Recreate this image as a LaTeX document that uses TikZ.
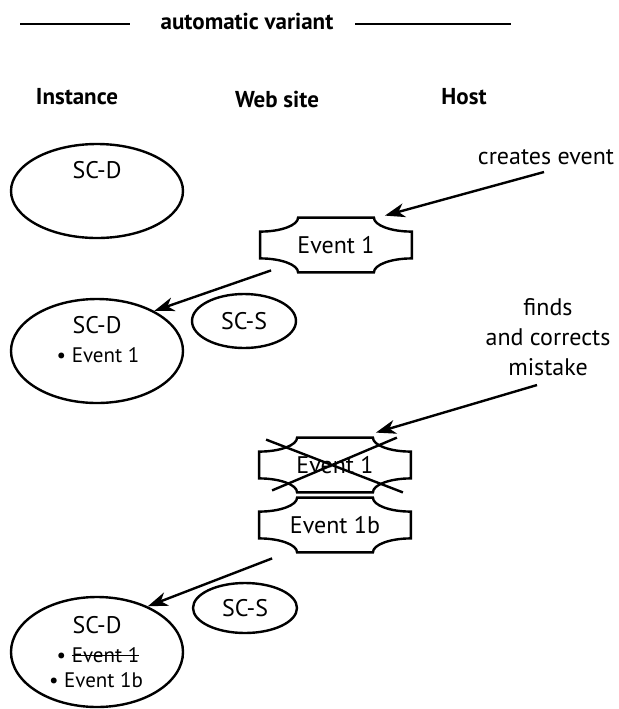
\documentclass[tikz,border=0pt]{standalone}
\usepackage{fontspec}
\setmainfont{PT Sans}
\usetikzlibrary{arrows.meta,calc,shapes.geometric}

\tikzset{
  heading/.style={font=\fontsize{11.5}{13}\selectfont\bfseries},
  plain/.style={font=\fontsize{12}{15}\selectfont, inner sep=1pt},
  itemtext/.style={font=\fontsize{10.5}{12}\selectfont, inner sep=1pt},
  sharedspace/.style={ellipse, draw, line width=1.2pt, inner sep=0pt, minimum width=86pt},
  privspace/.style={ellipse, draw, line width=1.2pt, inner sep=0pt, minimum width=52pt,
    font=\fontsize{12}{15}\selectfont},
  event/.style={font=\fontsize{12}{15}\selectfont, minimum width=75.5pt, minimum height=27pt, inner sep=0pt},
  ticketline/.style={line width=1.2pt},
  push/.style={line width=1.2pt, -{Stealth[length=10pt,width=7pt,inset=3pt]}},
  rule/.style={line width=1.2pt},
  crossline/.style={line width=1.2pt},
}

% struck-out text
\newcommand{\struck}[1]{\setbox0\hbox{#1}\rlap{\rule[0.3em]{\wd0}{0.6pt}}\box0}

% outline with hollow corners round an event node
\newcommand{\ticketoutline}[1]{%
  \draw[ticketline] let \p1=(#1.north west), \p2=(#1.south east) in
    ({\x1+19pt},\y1) -- ({\x2-19pt},\y1)
    .. controls ({\x2-19pt},{\y1-3.85pt}) and ({\x2-10.45pt},{\y1-7pt}) .. (\x2,{\y1-7pt})
    -- (\x2,{\y2+7pt})
    .. controls ({\x2-10.45pt},{\y2+7pt}) and ({\x2-19pt},{\y2+3.85pt}) .. ({\x2-19pt},\y2)
    -- ({\x1+19pt},\y2)
    .. controls ({\x1+19pt},{\y2+3.85pt}) and ({\x1+10.45pt},{\y2+7pt}) .. (\x1,{\y2+7pt})
    -- (\x1,{\y1-7pt})
    .. controls ({\x1+10.45pt},{\y1-7pt}) and ({\x1+19pt},{\y1-3.85pt}) .. cycle;}

\begin{document}
\begin{tikzpicture}[x=0.5pt,y=-0.5pt]
  \useasboundingbox (0,0) rectangle (619,709);

  % title and columns
  \node[heading] (title) at (247,21) {automatic variant};
  \draw[rule] (20,24) -- (130,24);
  \draw[rule] (355,24) -- (511,24);
  \node[heading] (colinst) at (77,97) {Instance};
  \node[heading] (colweb) at (277,99) {Web site};
  \node[heading] (colhost) at (464,97) {Host};

  % host creates the event
  \node[sharedspace, minimum height=47pt] (scd1) at (97,191) {};
  \node[plain] (scd1lbl) at (97,170) {SC-D};
  \node[plain] (creates) at (546,157) {creates event};
  \node[event] (ev1) at (336,245) {Event 1};
  \ticketoutline{ev1}
  \draw[push] ($(creates.south)+(-2,5)$) -- ($(ev1.north east)+(-27,-2)$);

  % instance gets it
  \node[sharedspace, minimum height=52pt] (scd2) at (97,351) {};
  \node[plain] (scd2lbl) at (97,325) {SC-D};
  \node[itemtext] (scd2item) at (98,355) {\textbullet\ Event 1};
  \node[privspace, minimum height=27pt] (scs1) at (244,321) {SC-S};
  \draw[push] ($(ev1.south west)+(11,-2)$) -- (scd2.35);

  % host corrects it
  \node[plain, align=center] (finds) at (548,337) {finds\\and corrects\\mistake};
  \node[event] (ev2) at (335,465) {Event 1};
  \ticketoutline{ev2}
  \draw[crossline] ($(ev2.north west)+(7,2)$) -- ($(ev2.south east)+(-8,0)$);
  \draw[crossline] ($(ev2.south west)+(13,-2)$) -- ($(ev2.north east)+(-14,0)$);
  \draw[push] ($(finds.south)+(-11,7)$) -- ($(ev2.north east)+(-35,-5)$);
  \node[event] (ev3) at (335,525) {Event 1b};
  \ticketoutline{ev3}

  % instance updates
  \node[sharedspace, minimum height=55pt] (scd3) at (97,652) {};
  \node[plain] (scd3lbl) at (97,625) {SC-D};
  \node[itemtext] (scd3old) at (98,655) {\textbullet\ \struck{Event 1}};
  \node[itemtext] (scd3new) at (96,680) {\textbullet\ Event 1b};
  \node[privspace, minimum height=25pt] (scs2) at (245,608) {SC-S};
  \draw[push] ($(ev3.south west)+(13,6)$) -- (scd3.42);
\end{tikzpicture}
\end{document}
